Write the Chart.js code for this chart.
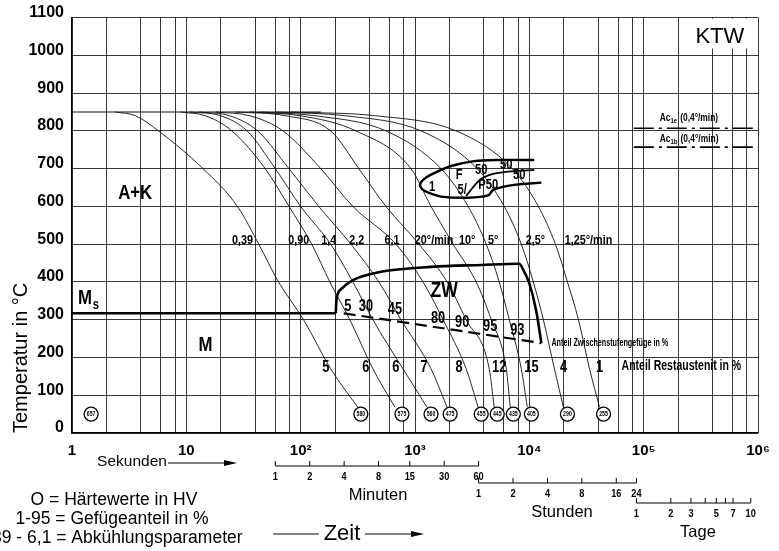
<!DOCTYPE html>
<html lang="de">
<head>
<meta charset="utf-8">
<title>ZTU-Schaubild KTW</title>
<script src="https://cdn.jsdelivr.net/npm/chart.js@4.4.1/dist/chart.umd.min.js"></script>
<style>
  body { margin: 0; background: #fff; }
  canvas { display: block; }
</style>
</head>
<body>
<canvas id="cctChart" width="779" height="551"></canvas>
<script>
var curveTemps = [850, 840, 800, 700, 600, 500, 400, 300, 170, 68];
var curveNames = ['0,39', '0,90', '1,4', '2,2', '6,1', '20°/min', '10°', '5°', '2,5°', '1,25°/min'];

// cooling curves: time in s at the temperatures above
var t039 = [2.4, 3.6, 5.7, 14, 28, 43, 64, 106, 183, 316];
var t090 = [8.9, 14.7, 25, 49, 79, 125, 180, 269, 428, 668];
var t14 = [10.8, 20, 34, 60, 100, 183, 286, 428, 785, 1274];
var t22 = [13, 24, 42, 79, 144, 275, 483, 754, 1381, 1909];
var t61 = [18, 36, 70, 150, 286, 681, 1175, 1761, 2800, 3571];
var t20min = [27, 74, 183, 323, 557, 1084, 1909, 2800, 4460, 4931];
var t10min = [36, 100, 304, 922, 1381, 2154, 3428, 4642, 6286, 6811];
var t5min = [45, 135, 557, 1690, 2917, 4197, 5455, 6675, 8508, 9600];
var t25min = [60, 248, 1129, 3497, 6036, 8508, 10840, 13260, 16570, 19880];
var t125min = [82, 455, 2290, 7096, 11990, 16900, 21540, 26900, 33600, 41120];
var coolingCurves = [t039, t090, t14, t22, t61, t20min, t10min, t5min, t25min, t125min];

// hardness HV (circles)
var hvTimes = [1.47, 336, 769, 1381, 2028, 3793, 5240, 7244, 10420, 21540, 44570];
var hvValues = [657, 580, 575, 560, 475, 455, 445, 435, 405, 290, 255];
var hvTemp = 50;

// austenitizing line, Ms
var austTimes = [1, 150];
var austTemps = [850, 850];
var msTimes = [1, 203];
var msTemps = [317, 317];

// bainite (ZW) region
var zwTimes = [203, 205, 224, 292, 503, 1381, 3796, 8166, 8855, 10000, 11514, 12744];
var zwTemps = [317, 348, 380, 406, 427, 440, 445, 448, 432, 396, 322, 238];
var zwEndTimes = [238, 12744];
var zwEndTemps = [317, 238];

// ferrite / pearlite nose
var noseTimes = [11058, 5347, 3294, 2069, 1381, 1175, 1106, 1152, 1327, 1690, 2917, 4369, 4831, 7388, 12744];
var noseTemps = [723, 723, 720, 707, 684, 670, 657, 646, 636, 626, 623, 629, 644, 657, 663];
var noseMidTimes = [2800, 3796, 5347, 11058];
var noseMidTemps = [628, 673, 689, 697];

// Ac1e / Ac1b
var acTimes = [82000, 1000000];
var ac1eTemps = [807, 807];
var ac1bTemps = [757, 757];

// structure shares
var restAustenit = ['5', '6', '6', '7', '8', '12', '15', '4', '1'];
var zwShare = ['5', '30', '45', '80', '90', '95', '93'];

// secondary time scales
var minuteTicks = [1, 2, 4, 8, 15, 30, 60];
var hourTicks = [1, 2, 4, 8, 16, 24];
var dayTicks = [1, 2, 3, 4, 5, 6, 7, 10];
var dayLabels = ['1', '2', '3', '', '5', '', '7', '10'];
var gridSteps = [1, 2, 4, 6, 8];
var sup = ['', '', '²', '³', '⁴', '⁵', '⁶'];

var SANS = "'Liberation Sans', Arial, sans-serif";

function pts(xs, ys) {
  return xs.map(function (x, i) { return { x: x, y: ys[i] }; });
}

var datasets = [];
coolingCurves.forEach(function (c, i) {
  datasets.push({
    label: curveNames[i],
    data: pts(c, curveTemps),
    borderColor: '#111',
    borderWidth: 0.9,
    pointRadius: 0,
    cubicInterpolationMode: 'monotone'
  });
});
datasets.push({ data: pts(austTimes, austTemps), borderColor: '#111', borderWidth: 1.2, pointRadius: 0 });
datasets.push({ data: pts(msTimes, msTemps), borderColor: '#000', borderWidth: 2.6, pointRadius: 0 });
datasets.push({ data: pts(zwTimes, zwTemps), borderColor: '#000', borderWidth: 2.6, pointRadius: 0, cubicInterpolationMode: 'monotone' });
datasets.push({ data: pts(zwEndTimes, zwEndTemps), borderColor: '#000', borderWidth: 2.2, borderDash: [12, 6], pointRadius: 0 });
datasets.push({ data: pts(noseTimes, noseTemps), borderColor: '#000', borderWidth: 2.4, pointRadius: 0, tension: 0.3 });
datasets.push({ data: pts(noseMidTimes, noseMidTemps), borderColor: '#000', borderWidth: 1.8, pointRadius: 0, tension: 0.3 });
datasets.push({ data: pts(acTimes, ac1eTemps), borderColor: '#000', borderWidth: 1.6, borderDash: [20, 5, 3, 5], pointRadius: 0 });
datasets.push({ data: pts(acTimes, ac1bTemps), borderColor: '#000', borderWidth: 1.6, borderDash: [20, 5, 3, 5], pointRadius: 0 });
var hvIndex = datasets.length;
datasets.push({
  data: hvTimes.map(function (t) { return { x: t, y: hvTemp }; }),
  showLine: false,
  pointRadius: 7,
  pointBackgroundColor: '#fff',
  pointBorderColor: '#000',
  pointBorderWidth: 1.3,
  order: -1
});

// bold labels are squeezed a bit to look like the condensed lettering of the original
function drawText(ctx, s, x, y, size, o) {
  o = o || {};
  var bold = o.bold !== false;
  var sx = o.sx || (bold ? 0.8 : 1);
  ctx.save();
  ctx.font = (bold ? 'bold ' : '') + size + 'px ' + SANS;
  ctx.fillStyle = '#000';
  ctx.textAlign = o.align || 'center';
  ctx.textBaseline = 'middle';
  ctx.translate(x, y);
  ctx.scale(sx, 1);
  ctx.fillText(s, 0, 0);
  ctx.restore();
}

function arrow(ctx, x1, x2, y, head) {
  ctx.save();
  ctx.strokeStyle = '#000';
  ctx.fillStyle = '#000';
  ctx.lineWidth = 1.2;
  ctx.beginPath();
  ctx.moveTo(x1, y);
  ctx.lineTo(head ? x2 - 8 : x2, y);
  ctx.stroke();
  if (head) {
    ctx.beginPath();
    ctx.moveTo(x2, y);
    ctx.lineTo(x2 - 13, y - 3);
    ctx.lineTo(x2 - 13, y + 3);
    ctx.closePath();
    ctx.fill();
  }
  ctx.restore();
}

function timeScale(ctx, xs, unit, ticks, labels, yLine, yLab) {
  var x0 = xs.getPixelForValue(ticks[0] * unit);
  var x1 = xs.getPixelForValue(ticks[ticks.length - 1] * unit);
  ctx.save();
  ctx.strokeStyle = '#000';
  ctx.lineWidth = 1;
  ctx.beginPath();
  ctx.moveTo(x0, yLine);
  ctx.lineTo(x1, yLine);
  ticks.forEach(function (v) {
    var x = xs.getPixelForValue(v * unit);
    ctx.moveTo(x, yLine);
    ctx.lineTo(x, yLine - 5);
  });
  ctx.stroke();
  ctx.restore();
  ticks.forEach(function (v, i) {
    if (labels[i]) drawText(ctx, labels[i], xs.getPixelForValue(v * unit), yLab, 11.5);
  });
}

function acLabel(ctx, x, y, sub) {
  ctx.save();
  ctx.fillStyle = '#000';
  ctx.textBaseline = 'middle';
  ctx.textAlign = 'left';
  ctx.translate(x, y);
  ctx.scale(0.8, 1);
  ctx.font = 'bold 10.5px ' + SANS;
  ctx.fillText('Ac', 0, 0);
  var w = ctx.measureText('Ac').width;
  ctx.font = 'bold 7.5px ' + SANS;
  ctx.fillText(sub, w, 3);
  var w2 = ctx.measureText(sub).width;
  ctx.font = 'bold 10.5px ' + SANS;
  ctx.fillText(' (0,4°/min)', w + w2 + 1, 0);
  ctx.restore();
}

var extras = {
  id: 'extras',
  afterDatasetsDraw: function (chart) {
    var ctx = chart.ctx, xs = chart.scales.x, ys = chart.scales.y;
    function P(t, T) { return [xs.getPixelForValue(t), ys.getPixelForValue(T)]; }

    // hardness values inside the circles
    chart.getDatasetMeta(hvIndex).data.forEach(function (pt, i) {
      drawText(ctx, String(hvValues[i]), pt.x, pt.y + 0.5, 6.5);
    });

    // cooling parameter labels
    var curveLabelAt = [31, 96, 176, 310, 629, 1468, 2858, 4831, 11290, 32930];
    curveNames.forEach(function (s, i) {
      var p = P(curveLabelAt[i], 511);
      drawText(ctx, s, p[0], p[1], 13.5);
    });

    // retained austenite
    var raAt = [166, 372, 681, 1199, 2432, 5455, 10420, 19880, 41120];
    restAustenit.forEach(function (s, i) {
      var p = P(raAt[i], 173);
      drawText(ctx, s, p[0], p[1], 16);
    });

    // bainite shares
    var zwAt = [[258, 336], [372, 336], [668, 327], [1591, 302], [2585, 292], [4550, 283], [7850, 270]];
    zwShare.forEach(function (s, i) {
      var p = P(zwAt[i][0], zwAt[i][1]);
      drawText(ctx, s, p[0], p[1], 16);
    });

    // region labels
    var notes = [
      [3.57, 636, 'A+K', 21], [14.7, 233, 'M', 21], [1796, 377, 'ZW', 22], [1.30, 356, 'M', 21],
      [2432, 684, 'F', 14], [1409, 652, '1', 14], [2585, 642, '5/', 14], [4369, 657, 'P50', 14],
      [3793, 697, '50', 14], [6286, 710, '50', 14], [8166, 684, '50', 14]
    ];
    notes.forEach(function (n) {
      var p = P(n[0], n[1]);
      drawText(ctx, n[2], p[0], p[1], n[3]);
    });
    var ps = P(1.62, 338);
    drawText(ctx, 's', ps[0], ps[1], 14);

    var pz = P(15600, 238);
    drawText(ctx, 'Anteil Zwischenstufengefüge in %', pz[0], pz[1], 10, { align: 'left', sx: 0.72 });
    var pr = P(64130, 178);
    drawText(ctx, 'Anteil Restaustenit in %', pr[0], pr[1], 14, { align: 'left', sx: 0.75 });

    var pa = P(138000, 835);
    acLabel(ctx, pa[0], pa[1], '1e');
    var pb = P(138000, 778);
    acLabel(ctx, pb[0], pb[1], '1b');

    // KTW box
    var k = P(464000, 1050);
    ctx.save();
    ctx.font = '22px ' + SANS;
    var w = ctx.measureText('KTW').width;
    ctx.fillStyle = '#fff';
    ctx.fillRect(k[0] - w / 2 - 10, ys.top + 1, w + 20, k[1] - ys.top + 11);
    ctx.restore();
    drawText(ctx, 'KTW', k[0], k[1], 22, { bold: false });
  },
  afterDraw: function (chart) {
    var ctx = chart.ctx, xs = chart.scales.x;

    drawText(ctx, 'Sekunden', 132, 462, 15.5, { bold: false });
    arrow(ctx, 168, 237, 463, true);

    timeScale(ctx, xs, 60, minuteTicks, minuteTicks.map(String), 466, 477);
    timeScale(ctx, xs, 3600, hourTicks, hourTicks.map(String), 483, 494);
    timeScale(ctx, xs, 86400, dayTicks, dayLabels, 503, 514);

    drawText(ctx, 'Minuten', 378, 495, 16.5, { bold: false });
    drawText(ctx, 'Stunden', 562, 512, 16.5, { bold: false });
    drawText(ctx, 'Tage', 698, 532, 16.5, { bold: false });

    drawText(ctx, 'Zeit', 342, 534, 22, { bold: false });
    arrow(ctx, 273, 319, 534, false);
    arrow(ctx, 365, 424, 534, true);

    drawText(ctx, 'O = Härtewerte in HV', 114, 500, 17.5, { bold: false });
    drawText(ctx, '1-95 = Gefügeanteil in %', 112, 519, 17.5, { bold: false });
    drawText(ctx, '0,39 - 6,1 = Abkühlungsparameter', 110, 538, 17.5, { bold: false });
  }
};

var gridColor = 'rgba(0,0,0,0.78)';

var ctx = document.getElementById('cctChart').getContext('2d');
var cctChart = new Chart(ctx, {
  type: 'line',
  data: { datasets: datasets },
  options: {
    responsive: false,
    animation: false,
    devicePixelRatio: 1,
    layout: {
      padding: { top: 13, right: 21, left: 0, bottom: 0 }
    },
    plugins: {
      legend: { display: false },
      tooltip: { enabled: false }
    },
    scales: {
      x: {
        type: 'logarithmic',
        min: 1,
        max: 1000000,
        afterBuildTicks: function (scale) {
          var ticks = [];
          for (var e = 0; e < 6; e++) {
            gridSteps.forEach(function (m) { ticks.push({ value: m * Math.pow(10, e) }); });
          }
          ticks.push({ value: 1000000 });
          scale.ticks = ticks;
        },
        afterFit: function (scale) { scale.height = 118; },
        ticks: {
          autoSkip: false,
          maxRotation: 0,
          padding: 9,
          color: '#000',
          font: { family: SANS, size: 15, weight: 'bold' },
          callback: function (value) {
            var e = Math.round(Math.log10(value));
            if (Math.abs(value - Math.pow(10, e)) > 1e-6 * value) return '';
            if (e === 0) return '1';
            if (e === 1) return '10';
            return '10' + sup[e];
          }
        },
        grid: { color: gridColor, lineWidth: 1, drawTicks: false },
        border: { color: '#000', width: 1.2 }
      },
      y: {
        min: 0,
        max: 1100,
        afterFit: function (scale) { scale.width = 72; },
        ticks: {
          stepSize: 100,
          padding: 8,
          labelOffset: -5,
          color: '#000',
          font: { family: SANS, size: 16, weight: 'bold' },
          callback: function (value) { return String(value); }
        },
        grid: { color: gridColor, lineWidth: 1, drawTicks: false },
        border: { color: '#000', width: 1.2 },
        title: {
          display: true,
          text: 'Temperatur in °C',
          align: 'start',
          color: '#000',
          font: { family: SANS, size: 20 },
          padding: { top: 9, bottom: 0 }
        }
      }
    }
  },
  plugins: [extras]
});
</script>
</body>
</html>
